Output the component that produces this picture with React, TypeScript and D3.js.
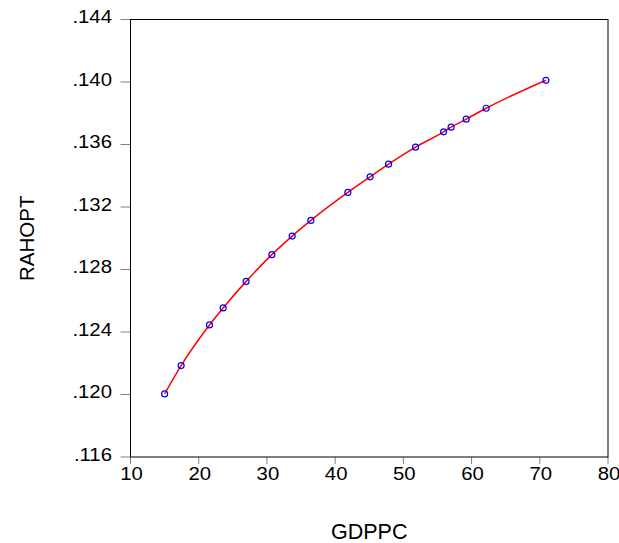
import React from 'react';
import * as d3 from 'd3';

const gdppc = [15.0, 17.42, 21.58, 23.58, 26.95, 30.72, 33.7, 36.44, 41.86, 45.13, 47.83, 51.79, 55.9, 57.0, 59.21, 62.14, 70.9];
const rahopt = [0.12004, 0.12185, 0.12445, 0.12554, 0.12724, 0.12895, 0.13014, 0.13114, 0.13293, 0.13393, 0.13474, 0.13583, 0.13681, 0.13711, 0.13762, 0.13832, 0.14011];
const xTicks = [10, 20, 30, 40, 50, 60, 70, 80];
const yTicks = [0.116, 0.12, 0.124, 0.128, 0.132, 0.136, 0.14, 0.144];

const W = 619;
const H = 543;
const margin = { top: 19.5, right: 11, bottom: 86, left: 130.5 };

export default function App() {
  const x = d3.scaleLinear().domain([10, 80]).range([margin.left, W - margin.right]);
  const y = d3.scaleLinear().domain([0.116, 0.144]).range([H - margin.bottom, margin.top]);
  const pts = gdppc.map((g, i) => [g, rahopt[i]] as [number, number]);
  const line = d3.line<[number, number]>()
    .x(d => x(d[0]))
    .y(d => y(d[1]))
    .curve(d3.curveMonotoneX);
  const fmt = (v: number) => v.toFixed(3).replace(/^0/, '');
  const font = 'Liberation Sans, Arial, sans-serif';
  const x0 = x(10), x1 = x(80), y0 = y(0.116), y1 = y(0.144);
  const sx = 1.1; // tick labels look a bit wide in the original

  return (
    <svg width={W} height={H} style={{ position: 'absolute', left: 0, top: 0 }} fontFamily={font}>
      <rect x={0} y={0} width={W} height={H} fill="#fff" />
      {/* ticks */}
      {yTicks.map(t => (
        <g key={'y' + t}>
          <line x1={x0 - 10} x2={x0} y1={y(t)} y2={y(t)} stroke="#808080" strokeWidth={1} />
          <text transform={`translate(${x0 - 18.5},${y(t) + 3.5}) scale(${sx},1)`} textAnchor="end" fontSize={18.5} fill="#000">{fmt(t)}</text>
        </g>
      ))}
      {xTicks.map(t => (
        <g key={'x' + t}>
          <line x1={x(t)} x2={x(t)} y1={y0} y2={y0 + 7} stroke="#808080" strokeWidth={1} />
          <text transform={`translate(${x(t) + 1},${y0 + 22.5}) scale(${sx},1)`} textAnchor="middle" fontSize={18.5} fill="#000">{t}</text>
        </g>
      ))}
      {/* frame */}
      <rect x={x0} y={y1} width={x1 - x0} height={y0 - y1} fill="none" stroke="#000" strokeWidth={1} />
      {/* fitted line */}
      <path d={line(pts) || ''} fill="none" stroke="#ff0000" strokeWidth={1.5} />
      {pts.map((d, i) => (
        <circle key={i} cx={x(d[0])} cy={y(d[1])} r={3} fill="none" stroke="#0000ff" strokeWidth={1.2} />
      ))}
      <text x={(x0 + x1) / 2} y={539} textAnchor="middle" fontSize={21.5} fill="#000">GDPPC</text>
      <text transform={`translate(33.5,${(y0 + y1) / 2}) rotate(-90)`} textAnchor="middle" fontSize={20.5} fill="#000">RAHOPT</text>
    </svg>
  );
}
